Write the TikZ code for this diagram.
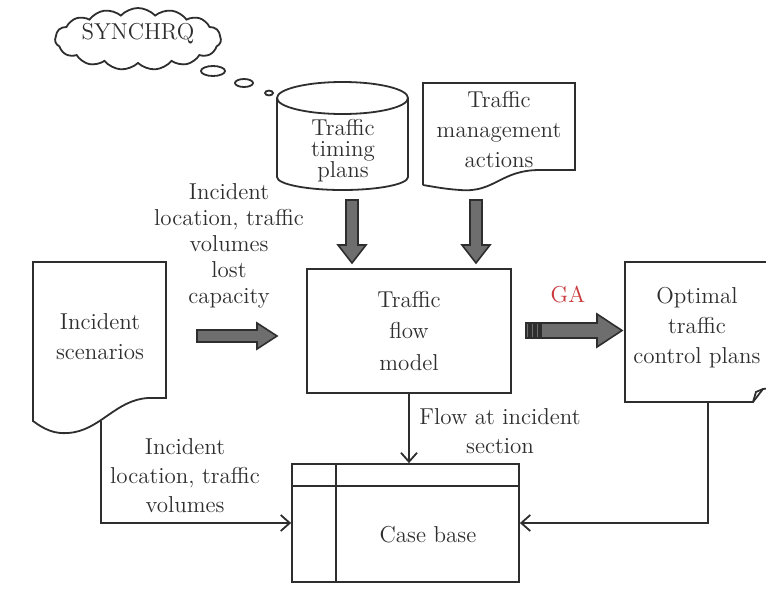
\documentclass[tikz,border=0pt]{standalone}
\usetikzlibrary{shapes.symbols,arrows.meta,calc}
\definecolor{ln}{HTML}{2E2E2E}
\definecolor{fatfill}{HTML}{6E6E6E}
\definecolor{gared}{HTML}{C8383C}
\tikzset{
  every node/.style={font=\fontsize{11.5}{15}\selectfont, text=ln},
  lin/.style={draw=ln, line width=0.9pt},
  fat/.style={draw=ln, fill=fatfill, line width=0.8pt, line join=miter},
  conn/.style={draw=ln, line width=0.9pt, -{Straight Barb[length=4.5pt,width=8pt]}},
  txt/.style={align=center, inner sep=0pt},
}
\begin{document}
\begin{tikzpicture}[x=0.5pt,y=-0.5pt]
\useasboundingbox (0,0) rectangle (766,605);

% SYNCHRQ cloud and thought bubbles
\node[cloud, cloud puffs=15, cloud puff arc=95, cloud ignores aspect, lin, minimum width=83pt, minimum height=31pt, inner sep=0pt] (sync) at (138,39) {};
\node[txt] (synct) at (138,34) {SYNCHRQ};
\draw[lin] (213,71) ellipse[x radius=6pt, y radius=2.5pt];
\draw[lin] (244,83) ellipse[x radius=4.5pt, y radius=2pt];
\draw[lin] (269,93) ellipse[x radius=2pt, y radius=1.2pt];

% cylinder: traffic timing plans
\draw[lin] (277,98) -- (277,177) arc[start angle=180, end angle=360, x radius=32.75pt, y radius=6.5pt] -- (408,98);
\draw[lin] (342.5,98) ellipse[x radius=32.75pt, y radius=8pt];
\node[txt, font=\fontsize{11.5}{10.5}\selectfont] (tdb) at (343,151) {Traffic\\timing\\plans};

% document: traffic management actions
\draw[lin] (423,185) -- (423,83) -- (575,83) -- (575,170) -- (540,170)
  .. controls (500,170) and (495,193) .. (460,190)
  .. controls (445,189) and (435,187) .. (423,185);
\node[txt] (tma) at (499,130) {Traffic\\management\\actions};

% down block arrows
\filldraw[fat] (346,200) -- (358,200) -- (358,245) -- (366,245) -- (352,263) -- (338,245) -- (346,245) -- cycle;
\filldraw[fat] (470,200) -- (482,200) -- (482,245) -- (490,245) -- (476,263) -- (462,245) -- (470,245) -- cycle;

% traffic flow model
\node[lin, rectangle, txt, minimum width=102pt, minimum height=62pt, font=\fontsize{11.5}{15.75}\selectfont] (tfm) at (409,331) {Traffic\\flow\\model};

% document: incident scenarios
\draw[lin] (166,262) -- (33,262) -- (33,421)
  .. controls (45,430) and (55,434) .. (68,433)
  .. controls (100,431) and (115,400) .. (148,398) -- (166,398) -- cycle;
\node[txt] (isc) at (100,337) {Incident\\scenarios};

% left block arrow and its label
\filldraw[fat] (197,330) -- (257,330) -- (257,323) -- (277,336) -- (257,349) -- (257,342) -- (197,342) -- cycle;
\node[txt, font=\fontsize{11.5}{13}\selectfont] (lbl1) at (229,246) {Incident\\location, traffic\\volumes\\lost\\capacity};

% GA striped arrow
\filldraw[fat] (526,323) rectangle (529,338);
\filldraw[fat] (531,323) rectangle (534,338);
\filldraw[fat] (536,323) rectangle (539,338);
\filldraw[fat] (541,323) -- (597,323) -- (597,314) -- (622,330.5) -- (597,347) -- (597,338) -- (541,338) -- cycle;
\node[txt, text=gared] (ga) at (568,295) {GA};

% document: optimal traffic control plans
\draw[lin] (790,262) -- (625,262) -- (625,402) -- (753,402) -- (763,389) -- (790,386);
\draw[lin] (753,402) -- (756,392) -- (763,389);
\node[txt] (otp) at (697,328) {Optimal\\traffic\\control plans};

% case base
\node[lin, rectangle, minimum width=113.5pt, minimum height=59pt, inner sep=0pt] (cb) at (405.5,523) {};
\draw[lin] ($(cb.north west)+(45,0)$) -- ($(cb.south west)+(45,0)$);
\draw[lin] ($(cb.north west)+(0,23)$) -- ($(cb.north east)+(0,23)$);
\node[txt] (cbt) at (428,535) {Case base};

% connectors
\coordinate (iscb) at (101,421);
\coordinate (otpb) at (708,402);
\draw[conn] (tfm.south) -- (tfm.south |- cb.north);
\draw[conn] (iscb) |- (cb.west);
\draw[conn] (otpb) |- (cb.east);

% connector labels
\node[txt, font=\fontsize{11.5}{14.5}\selectfont] (lbl2) at (185,476) {Incident\\location, traffic\\volumes};
\node[txt, font=\fontsize{11.5}{14.5}\selectfont] (lflow) at (500,431) {Flow at incident\\section};
\end{tikzpicture}
\end{document}
